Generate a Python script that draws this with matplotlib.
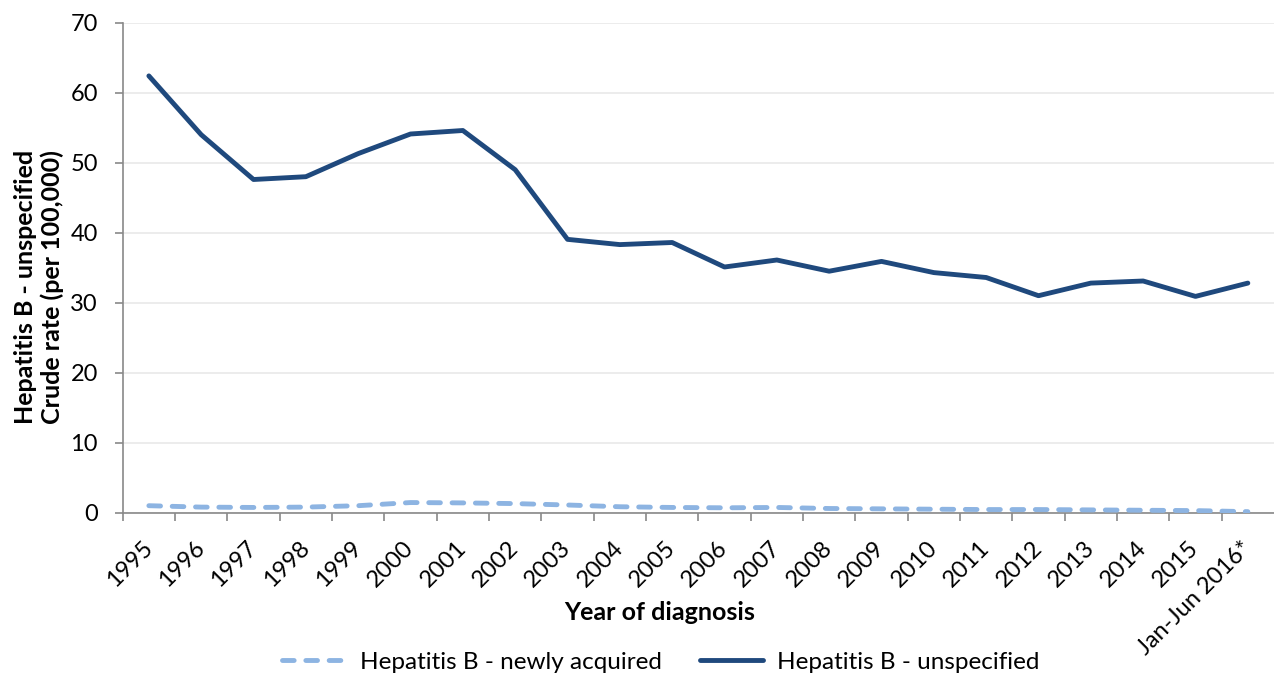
import numpy as np
import matplotlib
matplotlib.use("Agg")
import matplotlib.pyplot as plt

plt.rcParams['font.family'] = ['Lato', 'DejaVu Sans']

years = ["1995", "1996", "1997", "1998", "1999", "2000", "2001", "2002", "2003",
         "2004", "2005", "2006", "2007", "2008", "2009", "2010", "2011", "2012",
         "2013", "2014", "2015", "Jan-Jun 2016*"]

# crude rate per 100,000
newly_acquired = [1.0, 0.8, 0.75, 0.8, 1.0, 1.45, 1.4, 1.3, 1.1, 0.85, 0.75,
                  0.7, 0.75, 0.6, 0.55, 0.5, 0.45, 0.45, 0.4, 0.35, 0.3, 0.15]
unspecified = [62.4, 54.0, 47.6, 48.0, 51.3, 54.1, 54.6, 49.0, 39.05, 38.3, 38.6,
               35.1, 36.1, 34.5, 35.9, 34.3, 33.6, 31.0, 32.8, 33.1, 30.9, 32.8]

light = '#8DB4E2'
dark = '#1F497D'
axis_grey = '#898989'

fig = plt.figure(figsize=(12.74, 6.75), dpi=100)
ax = fig.add_axes([122.7 / 1274, 1 - 512.7 / 675, 1 - 122.7 / 1274, (512.7 - 22.7) / 675])

x = np.arange(len(years))
ax.plot(x, newly_acquired, color=light, lw=3.5, dashes=(2.4, 2.4),
        dash_capstyle='round', label='Hepatitis B - newly acquired', zorder=3)
ax.plot(x, unspecified, color=dark, lw=3.5, solid_capstyle='round',
        solid_joinstyle='round', label='Hepatitis B - unspecified', zorder=4)

ax.set_xlim(-0.5, len(years) - 0.5)
ax.set_ylim(0, 70)
ax.set_yticks(np.arange(0, 71, 10))
ax.yaxis.grid(True, color='#ebebeb', lw=1.3)
ax.set_axisbelow(True)

for s in ['top', 'right']:
    ax.spines[s].set_visible(False)
for s in ['left', 'bottom']:
    ax.spines[s].set_color(axis_grey)
    ax.spines[s].set_linewidth(1.2)

ax.set_xticks(x)
ax.set_xticklabels(years, rotation=45, ha='right', va='center', rotation_mode='anchor')
ax.set_xticks(np.arange(-0.5, len(years) - 1, 1), minor=True)
ax.tick_params(axis='x', which='major', length=0, pad=23, labelsize=17)
ax.tick_params(axis='x', which='minor', length=5.5, width=1.2, color=axis_grey)
ax.tick_params(axis='y', length=5.8, width=1.2, color=axis_grey, pad=12, labelsize=17)

fig.text(660 / 1274, 1 - 612 / 675, 'Year of diagnosis', ha='center', va='center',
         fontsize=18, fontweight='bold')
fig.text(39 / 1274, 1 - 287 / 675, 'Hepatitis B - unspecified\nCrude rate (per 100,000)',
         rotation=90, ha='center', va='center', multialignment='center',
         fontsize=18, fontweight='bold', linespacing=1.2)

fig.legend(loc='center', bbox_to_anchor=(661 / 1274, 1 - 662 / 675), ncol=2,
           frameon=False, fontsize=17.5, handlelength=2.6, handletextpad=0.6,
           columnspacing=1.55, borderaxespad=0)

fig.savefig('out.png', dpi=100)
